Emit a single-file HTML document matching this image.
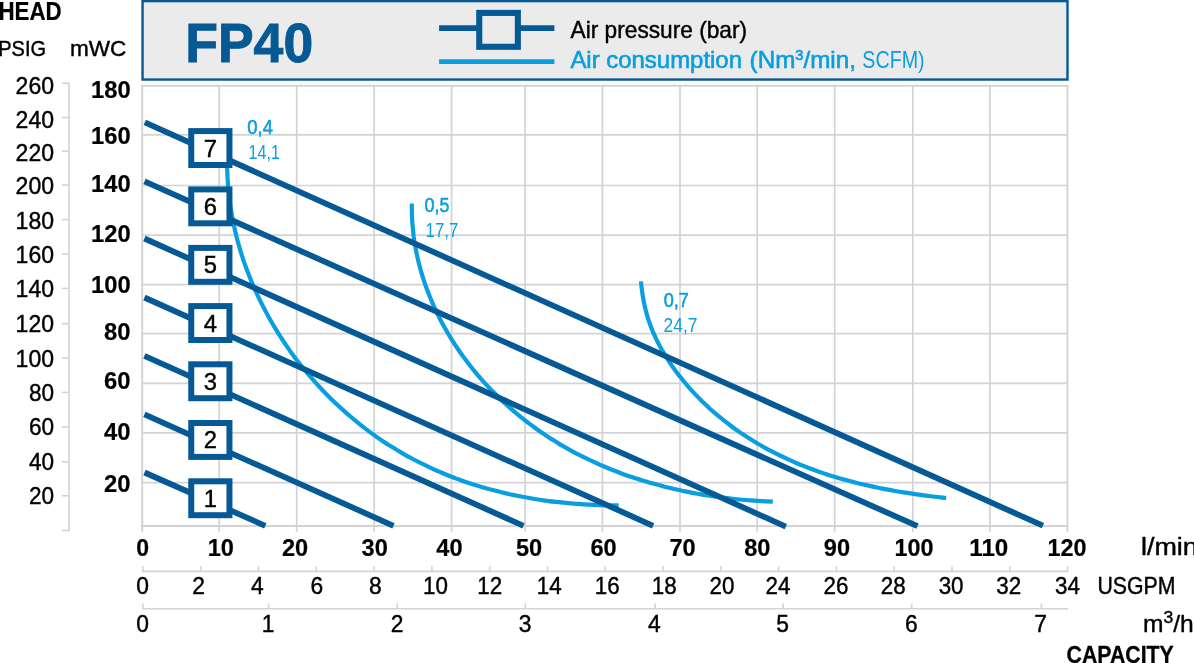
<!DOCTYPE html>
<html><head><meta charset="utf-8"><title>FP40</title>
<style>html,body{margin:0;padding:0;background:#fff;}body{width:1194px;height:663px;overflow:hidden;}svg{display:block;will-change:transform;}</style>
</head><body>
<svg width="1194" height="663" viewBox="0 0 1194 663" font-family='"Liberation Sans", sans-serif'>
<rect width="1194" height="663" fill="#fff"/>
<rect x="142.55" y="1.1" width="924.95" height="78.45" fill="#ebebeb" stroke="#055995" stroke-width="2.4"/>
<g stroke="#d3d3d5" stroke-width="1.7" fill="none">
<line x1="142.2" y1="84.89999999999999" x2="142.2" y2="531.8" stroke-width="2.0"/>
<line x1="219.2" y1="84.89999999999999" x2="219.2" y2="531.8"/>
<line x1="296.7" y1="84.89999999999999" x2="296.7" y2="531.8"/>
<line x1="374.1" y1="84.89999999999999" x2="374.1" y2="531.8"/>
<line x1="451.6" y1="84.89999999999999" x2="451.6" y2="531.8"/>
<line x1="525.1" y1="84.89999999999999" x2="525.1" y2="531.8"/>
<line x1="602.4" y1="84.89999999999999" x2="602.4" y2="531.8"/>
<line x1="680.0" y1="84.89999999999999" x2="680.0" y2="531.8"/>
<line x1="757.2" y1="84.89999999999999" x2="757.2" y2="531.8"/>
<line x1="834.7" y1="84.89999999999999" x2="834.7" y2="531.8"/>
<line x1="912.8" y1="84.89999999999999" x2="912.8" y2="531.8"/>
<line x1="989.9" y1="84.89999999999999" x2="989.9" y2="531.8"/>
<line x1="1067.3999999999999" y1="84.89999999999999" x2="1067.3999999999999" y2="531.8" stroke-width="1.9"/>
<line x1="142.1" y1="134.9" x2="1067.3" y2="134.9"/>
<line x1="142.1" y1="185.5" x2="1067.3" y2="185.5"/>
<line x1="142.1" y1="235.1" x2="1067.3" y2="235.1"/>
<line x1="142.1" y1="284.6" x2="1067.3" y2="284.6"/>
<line x1="142.1" y1="333.7" x2="1067.3" y2="333.7"/>
<line x1="142.1" y1="383.4" x2="1067.3" y2="383.4"/>
<line x1="142.1" y1="432.8" x2="1067.3" y2="432.8"/>
<line x1="142.1" y1="482.6" x2="1067.3" y2="482.6"/>
</g>
<g stroke="#d3d3d5" stroke-width="2" fill="none">
<line x1="141.2" y1="85.8" x2="1068.3" y2="85.8"/>
<line x1="141.2" y1="525.9" x2="1068.3" y2="525.9"/>
</g>
<g stroke="#d3d3d5" stroke-width="1.6" fill="none">
<line x1="69.0" y1="82.5" x2="69.0" y2="531.3"/>
<line x1="61.9" y1="83.3" x2="69.0" y2="83.3"/>
<line x1="61.9" y1="117.5" x2="69.0" y2="117.5"/>
<line x1="61.9" y1="151.2" x2="69.0" y2="151.2"/>
<line x1="61.9" y1="185.1" x2="69.0" y2="185.1"/>
<line x1="61.9" y1="219.6" x2="69.0" y2="219.6"/>
<line x1="61.9" y1="254.1" x2="69.0" y2="254.1"/>
<line x1="61.9" y1="288.4" x2="69.0" y2="288.4"/>
<line x1="61.9" y1="323.7" x2="69.0" y2="323.7"/>
<line x1="61.9" y1="358.0" x2="69.0" y2="358.0"/>
<line x1="61.9" y1="392.4" x2="69.0" y2="392.4"/>
<line x1="61.9" y1="427.0" x2="69.0" y2="427.0"/>
<line x1="61.9" y1="461.9" x2="69.0" y2="461.9"/>
<line x1="61.9" y1="495.8" x2="69.0" y2="495.8"/>
<line x1="61.9" y1="530.5" x2="69.0" y2="530.5"/>
</g>
<g stroke="#d3d3d5" stroke-width="1.6" fill="none">
<line x1="142.1" y1="571.4" x2="1068.2" y2="571.4"/>
<line x1="142.9" y1="566.1999999999999" x2="142.9" y2="571.4"/>
<line x1="200.7" y1="566.1999999999999" x2="200.7" y2="571.4"/>
<line x1="258.5" y1="566.1999999999999" x2="258.5" y2="571.4"/>
<line x1="316.3" y1="566.1999999999999" x2="316.3" y2="571.4"/>
<line x1="374.1" y1="566.1999999999999" x2="374.1" y2="571.4"/>
<line x1="431.9" y1="566.1999999999999" x2="431.9" y2="571.4"/>
<line x1="489.7" y1="566.1999999999999" x2="489.7" y2="571.4"/>
<line x1="547.5" y1="566.1999999999999" x2="547.5" y2="571.4"/>
<line x1="605.2" y1="566.1999999999999" x2="605.2" y2="571.4"/>
<line x1="663.0" y1="566.1999999999999" x2="663.0" y2="571.4"/>
<line x1="720.8" y1="566.1999999999999" x2="720.8" y2="571.4"/>
<line x1="778.6" y1="566.1999999999999" x2="778.6" y2="571.4"/>
<line x1="836.4" y1="566.1999999999999" x2="836.4" y2="571.4"/>
<line x1="894.2" y1="566.1999999999999" x2="894.2" y2="571.4"/>
<line x1="952.0" y1="566.1999999999999" x2="952.0" y2="571.4"/>
<line x1="1009.8" y1="566.1999999999999" x2="1009.8" y2="571.4"/>
<line x1="1067.6" y1="566.1999999999999" x2="1067.6" y2="571.4"/>
<line x1="142.1" y1="608.7" x2="1068.2" y2="608.7"/>
<line x1="142.9" y1="603.5" x2="142.9" y2="608.7"/>
<line x1="268.6" y1="603.5" x2="268.6" y2="608.7"/>
<line x1="397.2" y1="603.5" x2="397.2" y2="608.7"/>
<line x1="525.3" y1="603.5" x2="525.3" y2="608.7"/>
<line x1="655.1" y1="603.5" x2="655.1" y2="608.7"/>
<line x1="783.1" y1="603.5" x2="783.1" y2="608.7"/>
<line x1="911.7" y1="603.5" x2="911.7" y2="608.7"/>
<line x1="1041.4" y1="603.5" x2="1041.4" y2="608.7"/>
</g>
<g stroke="#089ee0" stroke-width="4.2" fill="none" stroke-linecap="butt" stroke-linejoin="round">
<path d="M227.4,150.0 C227.4,152.1 227.1,158.4 227.1,162.6 C227.1,166.8 227.2,171.1 227.4,175.3 C227.6,179.5 227.9,183.6 228.2,187.8 C228.6,192.0 229.1,196.2 229.6,200.4 C230.1,204.5 230.8,208.7 231.5,212.8 C232.2,216.9 233.0,221.1 233.9,225.2 C234.7,229.3 235.7,233.4 236.7,237.4 C237.8,241.5 238.9,245.5 240.1,249.6 C241.3,253.6 242.6,257.6 243.9,261.6 C245.3,265.5 246.7,269.5 248.3,273.4 C249.8,277.3 251.4,281.2 253.0,285.1 C254.7,289.0 256.4,292.8 258.2,296.6 C260.0,300.4 261.9,304.2 263.8,307.9 C265.7,311.6 267.7,315.3 269.8,319.0 C271.9,322.7 274.0,326.3 276.2,329.9 C278.4,333.4 280.6,337.0 282.9,340.5 C285.2,344.0 287.6,347.4 290.0,350.9 C292.5,354.3 295.0,357.7 297.5,361.0 C300.1,364.3 302.7,367.6 305.4,370.8 C308.0,374.1 310.8,377.3 313.6,380.4 C316.4,383.6 319.2,386.7 322.1,389.7 C325.0,392.8 327.9,395.8 330.9,398.7 C333.9,401.7 337.0,404.6 340.1,407.4 C343.2,410.3 346.4,413.1 349.6,415.8 C352.7,418.6 356.0,421.2 359.3,423.9 C362.6,426.5 365.9,429.1 369.3,431.6 C372.7,434.1 376.1,436.5 379.6,438.9 C383.0,441.2 386.5,443.6 390.1,445.8 C393.6,448.0 397.2,450.2 400.9,452.3 C404.5,454.4 408.1,456.5 411.8,458.5 C415.5,460.5 419.3,462.4 423.0,464.2 C426.8,466.1 430.6,467.8 434.4,469.6 C438.2,471.3 442.1,472.9 446.0,474.5 C449.9,476.1 453.8,477.6 457.7,479.1 C461.7,480.5 465.6,481.9 469.6,483.2 C473.6,484.5 477.6,485.8 481.6,487.0 C485.7,488.1 489.7,489.3 493.8,490.3 C497.9,491.4 502.0,492.4 506.1,493.4 C510.2,494.3 514.3,495.2 518.4,496.0 C522.5,496.8 526.7,497.6 530.8,498.3 C535.0,499.0 539.2,499.7 543.3,500.3 C547.5,500.9 551.7,501.4 555.9,501.9 C560.1,502.4 564.2,502.8 568.4,503.2 C572.6,503.6 576.8,503.9 581.0,504.2 C585.2,504.5 589.4,504.7 593.6,504.9 C597.8,505.1 602.0,505.2 606.2,505.3 C610.3,505.4 616.6,505.4 618.7,505.4"/>
<path d="M411.8,203.6 C411.8,205.4 411.8,211.0 411.9,214.7 C412.0,218.4 412.2,222.1 412.6,225.7 C412.9,229.4 413.3,233.1 413.7,236.7 C414.2,240.4 414.8,244.0 415.5,247.6 C416.1,251.2 416.9,254.8 417.7,258.4 C418.5,262.0 419.4,265.5 420.4,269.1 C421.4,272.6 422.4,276.1 423.6,279.6 C424.7,283.1 425.9,286.6 427.2,290.0 C428.5,293.4 429.8,296.8 431.3,300.2 C432.7,303.6 434.2,307.0 435.8,310.3 C437.3,313.6 438.9,316.9 440.6,320.2 C442.3,323.4 444.1,326.6 445.9,329.8 C447.7,333.0 449.6,336.2 451.6,339.3 C453.5,342.4 455.5,345.5 457.6,348.5 C459.6,351.6 461.7,354.6 463.9,357.5 C466.1,360.5 468.3,363.4 470.6,366.3 C472.8,369.2 475.2,372.0 477.5,374.8 C479.9,377.6 482.4,380.4 484.8,383.1 C487.3,385.8 489.8,388.5 492.4,391.1 C495.0,393.8 497.6,396.4 500.3,398.9 C502.9,401.5 505.6,404.0 508.4,406.4 C511.1,408.9 513.9,411.3 516.7,413.6 C519.6,416.0 522.4,418.3 525.3,420.6 C528.2,422.8 531.2,425.0 534.2,427.2 C537.1,429.4 540.2,431.5 543.2,433.6 C546.2,435.6 549.3,437.7 552.4,439.6 C555.5,441.6 558.7,443.5 561.8,445.4 C565.0,447.2 568.2,449.0 571.4,450.8 C574.6,452.6 577.9,454.3 581.2,455.9 C584.4,457.6 587.7,459.2 591.1,460.7 C594.4,462.3 597.7,463.8 601.1,465.3 C604.5,466.7 607.9,468.1 611.3,469.5 C614.7,470.8 618.1,472.2 621.5,473.4 C625.0,474.7 628.5,475.9 631.9,477.1 C635.4,478.3 638.9,479.4 642.4,480.5 C646.0,481.6 649.5,482.6 653.0,483.6 C656.6,484.6 660.1,485.5 663.7,486.4 C667.3,487.4 670.9,488.2 674.4,489.0 C678.0,489.9 681.6,490.6 685.3,491.4 C688.9,492.1 692.5,492.8 696.1,493.5 C699.7,494.1 703.4,494.8 707.0,495.3 C710.7,495.9 714.3,496.5 718.0,497.0 C721.6,497.5 725.3,497.9 728.9,498.3 C732.6,498.8 736.2,499.2 739.9,499.5 C743.6,499.9 747.2,500.2 750.9,500.4 C754.5,500.7 758.2,501.0 761.8,501.2 C765.5,501.4 771.0,501.6 772.8,501.7"/>
<path d="M641.0,281.4 C641.1,282.8 641.5,287.2 641.9,290.0 C642.3,292.9 642.7,295.8 643.2,298.6 C643.7,301.4 644.3,304.3 644.9,307.1 C645.6,309.9 646.3,312.6 647.1,315.4 C647.9,318.1 648.8,320.9 649.7,323.6 C650.7,326.3 651.7,328.9 652.8,331.6 C654.0,334.2 655.1,336.8 656.4,339.4 C657.6,342.0 659.0,344.6 660.3,347.1 C661.7,349.6 663.2,352.1 664.7,354.5 C666.1,357.0 667.7,359.4 669.3,361.8 C670.9,364.2 672.5,366.6 674.2,368.9 C675.9,371.3 677.6,373.6 679.4,375.8 C681.1,378.1 683.0,380.3 684.8,382.5 C686.6,384.7 688.5,386.9 690.4,389.1 C692.3,391.2 694.3,393.3 696.3,395.4 C698.3,397.5 700.3,399.5 702.3,401.5 C704.4,403.5 706.5,405.5 708.6,407.4 C710.7,409.4 712.9,411.3 715.0,413.2 C717.2,415.1 719.4,416.9 721.7,418.7 C723.9,420.5 726.2,422.3 728.5,424.0 C730.8,425.8 733.1,427.5 735.4,429.2 C737.8,430.8 740.1,432.5 742.5,434.1 C744.9,435.7 747.3,437.3 749.8,438.8 C752.2,440.3 754.6,441.8 757.1,443.3 C759.6,444.8 762.1,446.2 764.6,447.6 C767.1,449.0 769.6,450.3 772.2,451.7 C774.7,453.0 777.3,454.3 779.9,455.5 C782.5,456.8 785.1,458.0 787.7,459.2 C790.3,460.4 792.9,461.5 795.5,462.7 C798.2,463.8 800.8,464.9 803.5,465.9 C806.2,467.0 808.9,468.0 811.5,469.0 C814.2,470.0 816.9,471.0 819.7,471.9 C822.4,472.9 825.1,473.8 827.8,474.7 C830.6,475.6 833.3,476.4 836.1,477.2 C838.8,478.1 841.6,478.9 844.4,479.6 C847.2,480.4 849.9,481.2 852.7,481.9 C855.5,482.6 858.3,483.3 861.1,484.0 C863.9,484.7 866.7,485.3 869.5,485.9 C872.4,486.6 875.2,487.2 878.0,487.8 C880.8,488.3 883.7,488.9 886.5,489.4 C889.3,490.0 892.2,490.5 895.0,491.0 C897.8,491.5 900.7,492.0 903.5,492.4 C906.4,492.9 909.2,493.3 912.1,493.7 C914.9,494.1 917.8,494.5 920.6,494.9 C923.5,495.3 926.3,495.7 929.1,496.0 C932.0,496.4 934.8,496.7 937.7,497.0 C940.5,497.3 944.8,497.8 946.2,497.9"/>
</g>
<g stroke="#055995" stroke-width="5.8" fill="none" stroke-linecap="butt">
<line x1="144.8" y1="122.3" x2="1042.9" y2="525.7"/>
<line x1="144.5" y1="181.3" x2="917.5" y2="526.2"/>
<line x1="144.4" y1="238.5" x2="785.8" y2="526.6"/>
<line x1="144.4" y1="297.5" x2="653.1" y2="525.8"/>
<line x1="144.4" y1="355.8" x2="523.5" y2="525.8"/>
<line x1="144.4" y1="414.4" x2="393.5" y2="525.8"/>
<line x1="144.5" y1="472.5" x2="265.3" y2="525.8"/>
</g>
<rect x="191.25" y="131.1" width="38.2" height="33.9" fill="#fff" stroke="#055995" stroke-width="6"/>
<text x="210.3" y="156.5" font-size="23.8" font-weight="normal" fill="#000" text-anchor="middle" stroke="#000" stroke-width="0.42">7</text>
<rect x="191.25" y="189.4" width="38.2" height="33.9" fill="#fff" stroke="#055995" stroke-width="6"/>
<text x="210.3" y="214.8" font-size="23.8" font-weight="normal" fill="#000" text-anchor="middle" stroke="#000" stroke-width="0.42">6</text>
<rect x="191.25" y="247.9" width="38.2" height="33.9" fill="#fff" stroke="#055995" stroke-width="6"/>
<text x="210.3" y="273.3" font-size="23.8" font-weight="normal" fill="#000" text-anchor="middle" stroke="#000" stroke-width="0.42">5</text>
<rect x="191.25" y="306.1" width="38.2" height="33.9" fill="#fff" stroke="#055995" stroke-width="6"/>
<text x="210.3" y="331.5" font-size="23.8" font-weight="normal" fill="#000" text-anchor="middle" stroke="#000" stroke-width="0.42">4</text>
<rect x="191.25" y="364.3" width="38.2" height="33.9" fill="#fff" stroke="#055995" stroke-width="6"/>
<text x="210.3" y="389.7" font-size="23.8" font-weight="normal" fill="#000" text-anchor="middle" stroke="#000" stroke-width="0.42">3</text>
<rect x="191.25" y="423.0" width="38.2" height="33.9" fill="#fff" stroke="#055995" stroke-width="6"/>
<text x="210.3" y="448.4" font-size="23.8" font-weight="normal" fill="#000" text-anchor="middle" stroke="#000" stroke-width="0.42">2</text>
<rect x="191.25" y="481.3" width="38.2" height="33.9" fill="#fff" stroke="#055995" stroke-width="6"/>
<text x="210.3" y="506.7" font-size="23.8" font-weight="normal" fill="#000" text-anchor="middle" stroke="#000" stroke-width="0.42">1</text>
<text x="247.3" y="133.5" font-size="20.0" font-weight="normal" fill="#089ee0" text-anchor="start" textLength="25.6" lengthAdjust="spacingAndGlyphs" stroke="#089ee0" stroke-width="0.55">0,4</text>
<text x="248.6" y="159.3" font-size="20.7" font-weight="normal" fill="#089ee0" text-anchor="start" textLength="31.2" lengthAdjust="spacingAndGlyphs">14,1</text>
<text x="424.6" y="211.9" font-size="20.0" font-weight="normal" fill="#089ee0" text-anchor="start" textLength="24.9" lengthAdjust="spacingAndGlyphs" stroke="#089ee0" stroke-width="0.55">0,5</text>
<text x="425.6" y="237.2" font-size="20.7" font-weight="normal" fill="#089ee0" text-anchor="start" textLength="32.6" lengthAdjust="spacingAndGlyphs">17,7</text>
<text x="663.8" y="306.5" font-size="20.0" font-weight="normal" fill="#089ee0" text-anchor="start" textLength="25.1" lengthAdjust="spacingAndGlyphs" stroke="#089ee0" stroke-width="0.55">0,7</text>
<text x="663.6" y="332.3" font-size="20.7" font-weight="normal" fill="#089ee0" text-anchor="start" textLength="33.8" lengthAdjust="spacingAndGlyphs">24,7</text>
<text x="185.2" y="61.8" font-size="55.0" font-weight="bold" fill="#055995" text-anchor="start" textLength="128.0" lengthAdjust="spacingAndGlyphs" stroke="#055995" stroke-width="0.9">FP40</text>
<line x1="439.1" y1="28.1" x2="554.4" y2="28.1" stroke="#055995" stroke-width="5.9"/>
<rect x="479.25" y="12.9" width="38.6" height="33.9" fill="#ebebeb" stroke="#055995" stroke-width="6.1"/>
<line x1="439.1" y1="61.6" x2="554.4" y2="61.6" stroke="#089ee0" stroke-width="4.6"/>
<text x="570.6" y="38.3" font-size="23.4" font-weight="normal" fill="#000" text-anchor="start" textLength="176.5" lengthAdjust="spacingAndGlyphs" stroke="#000" stroke-width="0.42">Air pressure (bar)</text>
<text x="570.4" y="68.4" font-size="23.4" font-weight="normal" fill="#089ee0" text-anchor="start" textLength="171.6" lengthAdjust="spacingAndGlyphs" stroke="#089ee0" stroke-width="0.6">Air consumption</text>
<text x="749.6" y="68.4" font-size="23.4" fill="#089ee0" stroke="#089ee0" stroke-width="0.6" textLength="106.3" lengthAdjust="spacingAndGlyphs">(Nm<tspan font-size="14" dy="-8">3</tspan><tspan dy="8">/min,</tspan></text>
<text x="862.3" y="68.4" font-size="23.4" font-weight="normal" fill="#089ee0" text-anchor="start" textLength="62.3" lengthAdjust="spacingAndGlyphs">SCFM)</text>
<text x="-1.5" y="20.05" font-size="25.0" font-weight="bold" fill="#000" text-anchor="start" textLength="63.2" lengthAdjust="spacingAndGlyphs" stroke="#000" stroke-width="0.2">HEAD</text>
<text x="-1.8" y="55.95" font-size="22.9" font-weight="normal" fill="#000" text-anchor="start" textLength="47.8" lengthAdjust="spacingAndGlyphs" stroke="#000" stroke-width="0.42">PSIG</text>
<text x="69.9" y="55.95" font-size="22.9" font-weight="normal" fill="#000" text-anchor="start" textLength="56.4" lengthAdjust="spacingAndGlyphs" stroke="#000" stroke-width="0.42">mWC</text>
<text x="15.6" y="94.1" font-size="24.5" font-weight="normal" fill="#000" text-anchor="start" textLength="38.4" lengthAdjust="spacingAndGlyphs" stroke="#000" stroke-width="0.42">260</text>
<text x="15.6" y="127.85" font-size="24.5" font-weight="normal" fill="#000" text-anchor="start" textLength="38.4" lengthAdjust="spacingAndGlyphs" stroke="#000" stroke-width="0.42">240</text>
<text x="15.6" y="160.8" font-size="24.5" font-weight="normal" fill="#000" text-anchor="start" textLength="38.4" lengthAdjust="spacingAndGlyphs" stroke="#000" stroke-width="0.42">220</text>
<text x="15.6" y="194.0" font-size="24.5" font-weight="normal" fill="#000" text-anchor="start" textLength="38.4" lengthAdjust="spacingAndGlyphs" stroke="#000" stroke-width="0.42">200</text>
<text x="15.6" y="228.6" font-size="24.5" font-weight="normal" fill="#000" text-anchor="start" textLength="38.4" lengthAdjust="spacingAndGlyphs" stroke="#000" stroke-width="0.42">180</text>
<text x="15.6" y="263.0" font-size="24.5" font-weight="normal" fill="#000" text-anchor="start" textLength="38.4" lengthAdjust="spacingAndGlyphs" stroke="#000" stroke-width="0.42">160</text>
<text x="15.6" y="297.4" font-size="24.5" font-weight="normal" fill="#000" text-anchor="start" textLength="38.4" lengthAdjust="spacingAndGlyphs" stroke="#000" stroke-width="0.42">140</text>
<text x="15.6" y="332.2" font-size="24.5" font-weight="normal" fill="#000" text-anchor="start" textLength="38.4" lengthAdjust="spacingAndGlyphs" stroke="#000" stroke-width="0.42">120</text>
<text x="15.6" y="366.5" font-size="24.5" font-weight="normal" fill="#000" text-anchor="start" textLength="38.4" lengthAdjust="spacingAndGlyphs" stroke="#000" stroke-width="0.42">100</text>
<text x="28.9" y="400.8" font-size="24.5" font-weight="normal" fill="#000" text-anchor="start" textLength="25.1" lengthAdjust="spacingAndGlyphs" stroke="#000" stroke-width="0.42">80</text>
<text x="28.9" y="435.0" font-size="24.5" font-weight="normal" fill="#000" text-anchor="start" textLength="25.1" lengthAdjust="spacingAndGlyphs" stroke="#000" stroke-width="0.42">60</text>
<text x="28.9" y="469.7" font-size="24.5" font-weight="normal" fill="#000" text-anchor="start" textLength="25.1" lengthAdjust="spacingAndGlyphs" stroke="#000" stroke-width="0.42">40</text>
<text x="28.9" y="504.0" font-size="24.5" font-weight="normal" fill="#000" text-anchor="start" textLength="25.1" lengthAdjust="spacingAndGlyphs" stroke="#000" stroke-width="0.42">20</text>
<text x="91.00000000000001" y="97.9" font-size="24.0" font-weight="bold" fill="#000" text-anchor="start" textLength="39.6" lengthAdjust="spacingAndGlyphs" stroke="#000" stroke-width="0.2">180</text>
<text x="91.00000000000001" y="144.4" font-size="24.0" font-weight="bold" fill="#000" text-anchor="start" textLength="39.6" lengthAdjust="spacingAndGlyphs" stroke="#000" stroke-width="0.2">160</text>
<text x="91.00000000000001" y="191.5" font-size="24.0" font-weight="bold" fill="#000" text-anchor="start" textLength="39.6" lengthAdjust="spacingAndGlyphs" stroke="#000" stroke-width="0.2">140</text>
<text x="91.00000000000001" y="242.2" font-size="24.0" font-weight="bold" fill="#000" text-anchor="start" textLength="39.6" lengthAdjust="spacingAndGlyphs" stroke="#000" stroke-width="0.2">120</text>
<text x="91.00000000000001" y="293.2" font-size="24.0" font-weight="bold" fill="#000" text-anchor="start" textLength="39.6" lengthAdjust="spacingAndGlyphs" stroke="#000" stroke-width="0.2">100</text>
<text x="104.10000000000001" y="340.4" font-size="24.0" font-weight="bold" fill="#000" text-anchor="start" textLength="26.5" lengthAdjust="spacingAndGlyphs" stroke="#000" stroke-width="0.2">80</text>
<text x="104.10000000000001" y="389.0" font-size="24.0" font-weight="bold" fill="#000" text-anchor="start" textLength="26.5" lengthAdjust="spacingAndGlyphs" stroke="#000" stroke-width="0.2">60</text>
<text x="104.10000000000001" y="440.1" font-size="24.0" font-weight="bold" fill="#000" text-anchor="start" textLength="26.5" lengthAdjust="spacingAndGlyphs" stroke="#000" stroke-width="0.2">40</text>
<text x="104.10000000000001" y="492.3" font-size="24.0" font-weight="bold" fill="#000" text-anchor="start" textLength="26.5" lengthAdjust="spacingAndGlyphs" stroke="#000" stroke-width="0.2">20</text>
<text x="142.7" y="556.1" font-size="24.3" font-weight="bold" fill="#000" text-anchor="middle" textLength="12.8" lengthAdjust="spacingAndGlyphs" stroke="#000" stroke-width="0.2">0</text>
<text x="220.8" y="556.1" font-size="24.3" font-weight="bold" fill="#000" text-anchor="middle" textLength="26.2" lengthAdjust="spacingAndGlyphs" stroke="#000" stroke-width="0.2">10</text>
<text x="295" y="556.1" font-size="24.3" font-weight="bold" fill="#000" text-anchor="middle" textLength="26.2" lengthAdjust="spacingAndGlyphs" stroke="#000" stroke-width="0.2">20</text>
<text x="374.7" y="556.1" font-size="24.3" font-weight="bold" fill="#000" text-anchor="middle" textLength="26.2" lengthAdjust="spacingAndGlyphs" stroke="#000" stroke-width="0.2">30</text>
<text x="449.4" y="556.1" font-size="24.3" font-weight="bold" fill="#000" text-anchor="middle" textLength="26.2" lengthAdjust="spacingAndGlyphs" stroke="#000" stroke-width="0.2">40</text>
<text x="529" y="556.1" font-size="24.3" font-weight="bold" fill="#000" text-anchor="middle" textLength="26.2" lengthAdjust="spacingAndGlyphs" stroke="#000" stroke-width="0.2">50</text>
<text x="603.5" y="556.1" font-size="24.3" font-weight="bold" fill="#000" text-anchor="middle" textLength="26.2" lengthAdjust="spacingAndGlyphs" stroke="#000" stroke-width="0.2">60</text>
<text x="682.6" y="556.1" font-size="24.3" font-weight="bold" fill="#000" text-anchor="middle" textLength="26.2" lengthAdjust="spacingAndGlyphs" stroke="#000" stroke-width="0.2">70</text>
<text x="757.3" y="556.1" font-size="24.3" font-weight="bold" fill="#000" text-anchor="middle" textLength="26.2" lengthAdjust="spacingAndGlyphs" stroke="#000" stroke-width="0.2">80</text>
<text x="836.9" y="556.1" font-size="24.3" font-weight="bold" fill="#000" text-anchor="middle" textLength="26.2" lengthAdjust="spacingAndGlyphs" stroke="#000" stroke-width="0.2">90</text>
<text x="914.1" y="556.1" font-size="24.3" font-weight="bold" fill="#000" text-anchor="middle" textLength="39.0" lengthAdjust="spacingAndGlyphs" stroke="#000" stroke-width="0.2">100</text>
<text x="988.8" y="556.1" font-size="24.3" font-weight="bold" fill="#000" text-anchor="middle" textLength="39.0" lengthAdjust="spacingAndGlyphs" stroke="#000" stroke-width="0.2">110</text>
<text x="1066.9" y="556.1" font-size="24.3" font-weight="bold" fill="#000" text-anchor="middle" textLength="39.0" lengthAdjust="spacingAndGlyphs" stroke="#000" stroke-width="0.2">120</text>
<text x="1141.0" y="555.2" font-size="23.3" font-weight="normal" fill="#000" text-anchor="start" textLength="56.8" lengthAdjust="spacingAndGlyphs" stroke="#000" stroke-width="0.42">l/min</text>
<text x="142.6" y="593.9" font-size="24.3" font-weight="normal" fill="#000" text-anchor="middle" textLength="12.7" lengthAdjust="spacingAndGlyphs" stroke="#000" stroke-width="0.42">0</text>
<text x="198.7" y="593.9" font-size="24.3" font-weight="normal" fill="#000" text-anchor="middle" textLength="12.7" lengthAdjust="spacingAndGlyphs" stroke="#000" stroke-width="0.42">2</text>
<text x="257.3" y="593.9" font-size="24.3" font-weight="normal" fill="#000" text-anchor="middle" textLength="12.7" lengthAdjust="spacingAndGlyphs" stroke="#000" stroke-width="0.42">4</text>
<text x="316.8" y="593.9" font-size="24.3" font-weight="normal" fill="#000" text-anchor="middle" textLength="12.7" lengthAdjust="spacingAndGlyphs" stroke="#000" stroke-width="0.42">6</text>
<text x="375.4" y="593.9" font-size="24.3" font-weight="normal" fill="#000" text-anchor="middle" textLength="12.7" lengthAdjust="spacingAndGlyphs" stroke="#000" stroke-width="0.42">8</text>
<text x="435.4" y="593.9" font-size="24.3" font-weight="normal" fill="#000" text-anchor="middle" textLength="24.9" lengthAdjust="spacingAndGlyphs" stroke="#000" stroke-width="0.42">10</text>
<text x="489.8" y="593.9" font-size="24.3" font-weight="normal" fill="#000" text-anchor="middle" textLength="24.9" lengthAdjust="spacingAndGlyphs" stroke="#000" stroke-width="0.42">12</text>
<text x="549.2" y="593.9" font-size="24.3" font-weight="normal" fill="#000" text-anchor="middle" textLength="24.9" lengthAdjust="spacingAndGlyphs" stroke="#000" stroke-width="0.42">14</text>
<text x="607.2" y="593.9" font-size="24.3" font-weight="normal" fill="#000" text-anchor="middle" textLength="24.9" lengthAdjust="spacingAndGlyphs" stroke="#000" stroke-width="0.42">16</text>
<text x="664.2" y="593.9" font-size="24.3" font-weight="normal" fill="#000" text-anchor="middle" textLength="24.9" lengthAdjust="spacingAndGlyphs" stroke="#000" stroke-width="0.42">18</text>
<text x="721.9" y="593.9" font-size="24.3" font-weight="normal" fill="#000" text-anchor="middle" textLength="24.9" lengthAdjust="spacingAndGlyphs" stroke="#000" stroke-width="0.42">20</text>
<text x="778" y="593.9" font-size="24.3" font-weight="normal" fill="#000" text-anchor="middle" textLength="24.9" lengthAdjust="spacingAndGlyphs" stroke="#000" stroke-width="0.42">24</text>
<text x="835.9" y="593.9" font-size="24.3" font-weight="normal" fill="#000" text-anchor="middle" textLength="24.9" lengthAdjust="spacingAndGlyphs" stroke="#000" stroke-width="0.42">26</text>
<text x="893.2" y="593.9" font-size="24.3" font-weight="normal" fill="#000" text-anchor="middle" textLength="24.9" lengthAdjust="spacingAndGlyphs" stroke="#000" stroke-width="0.42">28</text>
<text x="951.1" y="593.9" font-size="24.3" font-weight="normal" fill="#000" text-anchor="middle" textLength="24.9" lengthAdjust="spacingAndGlyphs" stroke="#000" stroke-width="0.42">30</text>
<text x="1008.7" y="593.9" font-size="24.3" font-weight="normal" fill="#000" text-anchor="middle" textLength="24.9" lengthAdjust="spacingAndGlyphs" stroke="#000" stroke-width="0.42">32</text>
<text x="1067.4" y="593.9" font-size="24.3" font-weight="normal" fill="#000" text-anchor="middle" textLength="24.9" lengthAdjust="spacingAndGlyphs" stroke="#000" stroke-width="0.42">34</text>
<text x="1097.4" y="593.9" font-size="23.8" font-weight="normal" fill="#000" text-anchor="start" textLength="78" lengthAdjust="spacingAndGlyphs" stroke="#000" stroke-width="0.42">USGPM</text>
<text x="142.6" y="631.8" font-size="24.2" font-weight="normal" fill="#000" text-anchor="middle" textLength="12.7" lengthAdjust="spacingAndGlyphs" stroke="#000" stroke-width="0.42">0</text>
<text x="268.2" y="631.8" font-size="24.2" font-weight="normal" fill="#000" text-anchor="middle" textLength="12.7" lengthAdjust="spacingAndGlyphs" stroke="#000" stroke-width="0.42">1</text>
<text x="397.0" y="631.8" font-size="24.2" font-weight="normal" fill="#000" text-anchor="middle" textLength="12.7" lengthAdjust="spacingAndGlyphs" stroke="#000" stroke-width="0.42">2</text>
<text x="525.2" y="631.8" font-size="24.2" font-weight="normal" fill="#000" text-anchor="middle" textLength="12.7" lengthAdjust="spacingAndGlyphs" stroke="#000" stroke-width="0.42">3</text>
<text x="654.4" y="631.8" font-size="24.2" font-weight="normal" fill="#000" text-anchor="middle" textLength="12.7" lengthAdjust="spacingAndGlyphs" stroke="#000" stroke-width="0.42">4</text>
<text x="782.6" y="631.8" font-size="24.2" font-weight="normal" fill="#000" text-anchor="middle" textLength="12.7" lengthAdjust="spacingAndGlyphs" stroke="#000" stroke-width="0.42">5</text>
<text x="911.3" y="631.8" font-size="24.2" font-weight="normal" fill="#000" text-anchor="middle" textLength="12.7" lengthAdjust="spacingAndGlyphs" stroke="#000" stroke-width="0.42">6</text>
<text x="1040.6" y="631.8" font-size="24.2" font-weight="normal" fill="#000" text-anchor="middle" textLength="12.7" lengthAdjust="spacingAndGlyphs" stroke="#000" stroke-width="0.42">7</text>
<text x="1143" y="632.0" font-size="23.8" textLength="50.8" lengthAdjust="spacingAndGlyphs" stroke="#000" stroke-width="0.4">m<tspan font-size="17" dy="-8.6">3</tspan><tspan dy="8.6">/h</tspan></text>
<text x="1066.6" y="663.3" font-size="23.6" font-weight="bold" fill="#000" text-anchor="start" textLength="107.2" lengthAdjust="spacingAndGlyphs" stroke="#000" stroke-width="0.3">CAPACITY</text>
</svg>
</body></html>
